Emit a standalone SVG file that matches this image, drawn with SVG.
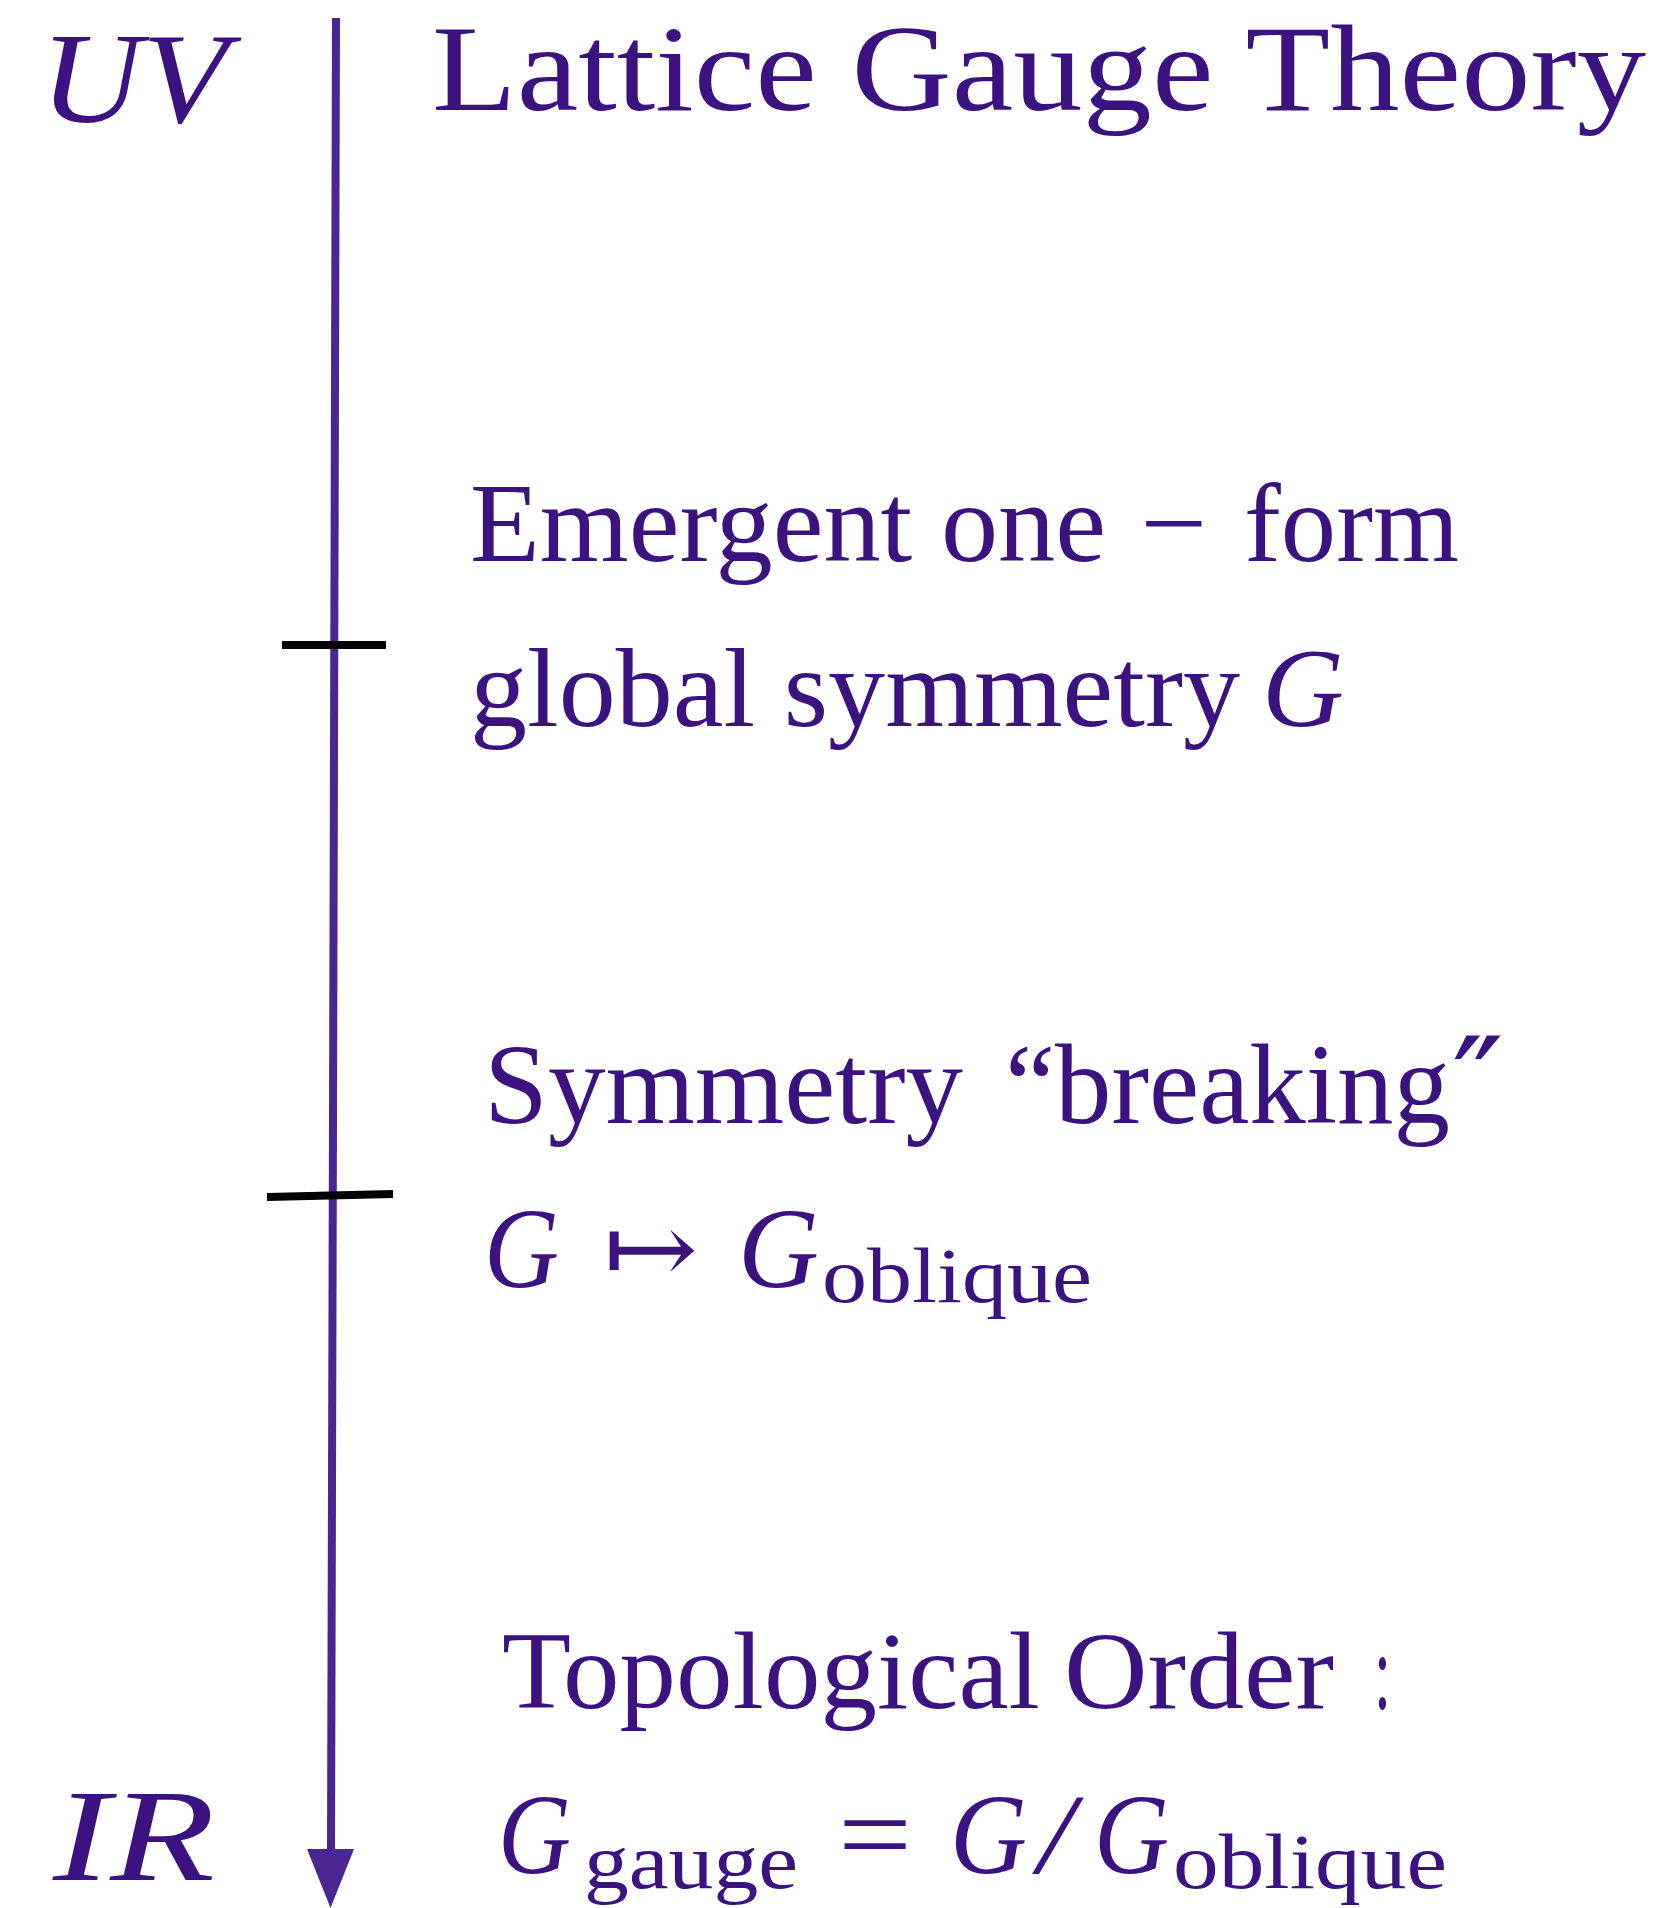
<svg xmlns="http://www.w3.org/2000/svg" width="1670" height="1908" viewBox="0 0 1670 1908">
<style>
.t{font-family:"Liberation Serif","Times New Roman",serif;fill:#3b1280;}
.i{font-style:italic;}
.sym{font-family:"DejaVu Serif","Liberation Serif",serif;fill:#3b1280;}
.tick{stroke:#000;stroke-width:8;fill:none;}
.axis{stroke:#4b2591;stroke-width:8;fill:none;}
</style>
<rect width="1670" height="1908" fill="#fff"/>
<g id="connectors">
<line class="axis" x1="336" y1="18" x2="331" y2="1852"/>
<polygon points="307,1849 354,1849 330.5,1908" fill="#4b2591"/>
<line class="tick" x1="282" y1="645" x2="386" y2="645"/>
<line class="tick" x1="267" y1="1197" x2="393" y2="1194"/>
</g>
<g id="uv">
<text class="t i" x="40" y="122" font-size="130" textLength="188" lengthAdjust="spacingAndGlyphs">UV</text>
</g>
<g id="ir">
<text class="t i" x="53" y="1880" font-size="132" textLength="162" lengthAdjust="spacingAndGlyphs">IR</text>
</g>
<g id="lattice">
<text class="t" x="432" y="110" font-size="123" textLength="1214" lengthAdjust="spacingAndGlyphs">Lattice Gauge Theory</text>
</g>
<g id="emergent">
<text class="t" x="470" y="561" font-size="112" textLength="636" lengthAdjust="spacingAndGlyphs">Emergent one</text>
<text class="t" x="1140" y="561" font-size="112" textLength="67" lengthAdjust="spacingAndGlyphs">−</text>
<text class="t" x="1244" y="561" font-size="112" textLength="215" lengthAdjust="spacingAndGlyphs">form</text>
<text class="t" x="470" y="726" font-size="112" textLength="770" lengthAdjust="spacingAndGlyphs">global symmetry</text>
<text class="t i" x="1262" y="726" font-size="112" textLength="82" lengthAdjust="spacingAndGlyphs">G</text>
</g>
<g id="breaking">
<text class="t" x="484" y="1123" font-size="114" textLength="479" lengthAdjust="spacingAndGlyphs">Symmetry</text>
<text class="t" x="1005" y="1123" font-size="114" textLength="445" lengthAdjust="spacingAndGlyphs">“breaking</text>
<text class="sym" x="1452" y="1130" font-size="130" textLength="52" lengthAdjust="spacingAndGlyphs">″</text>
<text class="t i" x="484" y="1287" font-size="114" textLength="75" lengthAdjust="spacingAndGlyphs">G</text>
<text class="sym" x="603" y="1283" font-size="100" textLength="95" lengthAdjust="spacingAndGlyphs">↦</text>
<text class="t i" x="738" y="1287" font-size="114" textLength="81" lengthAdjust="spacingAndGlyphs">G</text>
<text class="t" x="822" y="1302" font-size="78" textLength="270" lengthAdjust="spacingAndGlyphs">oblique</text>
</g>
<g id="topological">
<text class="t" x="502" y="1708" font-size="110" textLength="538" lengthAdjust="spacingAndGlyphs">Topological</text>
<text class="t" x="1064" y="1708" font-size="110" textLength="270" lengthAdjust="spacingAndGlyphs">Order</text>
<text class="t" x="1374" y="1708" font-size="110" textLength="17" lengthAdjust="spacingAndGlyphs">:</text>
<text class="t i" x="498" y="1873" font-size="114" textLength="73" lengthAdjust="spacingAndGlyphs">G</text>
<text class="t" x="584" y="1888" font-size="78" textLength="214" lengthAdjust="spacingAndGlyphs">gauge</text>
<text class="t" x="838" y="1873" font-size="114" textLength="74" lengthAdjust="spacingAndGlyphs">=</text>
<text class="t i" x="950" y="1873" font-size="114" textLength="77" lengthAdjust="spacingAndGlyphs">G</text>
<text class="t i" x="1038" y="1873" font-size="114" textLength="36" lengthAdjust="spacingAndGlyphs">/</text>
<text class="t i" x="1094" y="1873" font-size="114" textLength="75" lengthAdjust="spacingAndGlyphs">G</text>
<text class="t" x="1173" y="1888" font-size="78" textLength="274" lengthAdjust="spacingAndGlyphs">oblique</text>
</g>
</svg>
